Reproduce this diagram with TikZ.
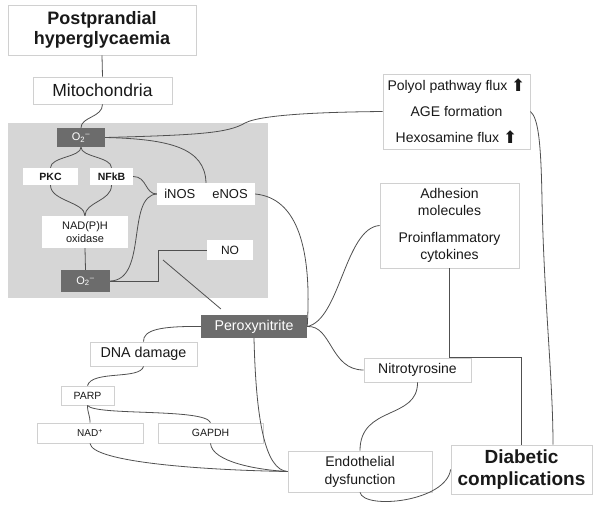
\documentclass[tikz,border=0pt]{standalone}
\usepackage{fontspec}
\setmainfont{Liberation Sans}
\newfontfamily\symf{DejaVu Sans}
\definecolor{panelgray}{RGB}{214,214,214}
\definecolor{darkbox}{RGB}{108,108,108}
\definecolor{boxline}{RGB}{208,208,208}
\definecolor{conn}{RGB}{80,80,80}
\definecolor{txt}{RGB}{25,25,25}
\newcommand{\fs}[2]{\fontsize{#1}{#2}\selectfont}
\newcommand{\uparr}{\raisebox{-1pt}{\symf\fontsize{17}{16}\selectfont ⬆}}
\begin{document}
\begin{tikzpicture}[x=1pt,y=-1pt,
  wbox/.style={draw=boxline,line width=0.8pt,fill=white,inner sep=0pt,align=center,text=txt},
  ibox/.style={fill=white,inner sep=0pt,align=center,text=txt},
  dbox/.style={fill=darkbox,inner sep=0pt,align=center,text=white},
  conn/.style={draw=conn,line width=0.8pt}]
\useasboundingbox (0,0) rectangle (600,520);
\fill[white] (0,0) rectangle (600,520);
\fill[panelgray] (8,123) rectangle (268,298);

% nodes
\node[wbox,minimum width=188pt,minimum height=50pt,font=\fs{18}{20}\bfseries] (ph) at (102,30) {Postprandial\\hyperglycaemia};
\node[wbox,minimum width=139pt,minimum height=27pt,font=\fs{17.5}{20}] (mito) at (102.5,90.5) {Mitochondria};
\node[dbox,minimum width=48pt,minimum height=19pt,font=\fs{11}{13}] (o2t) at (81,137.5) {O\textsubscript{2}\textsuperscript{--}};
\node[ibox,minimum width=55pt,minimum height=17pt,font=\fs{10.5}{12}\bfseries] (pkc) at (50.5,176.5) {PKC};
\node[ibox,minimum width=43pt,minimum height=17pt,font=\fs{10.5}{12}\bfseries] (nfkb) at (111.5,176.5) {NFkB};
\node[ibox,minimum width=98pt,minimum height=22pt,font=\fs{13}{15}] (inos) at (206,194) {iNOS\hspace{17pt}eNOS};
\node[ibox,minimum width=86pt,minimum height=32pt,font=\fs{11}{13}] (nadph) at (85,232) {NAD(P)H\\oxidase};
\node[ibox,minimum width=46pt,minimum height=20pt,font=\fs{12}{14}] (no) at (230,250) {NO};
\node[dbox,minimum width=49pt,minimum height=22pt,font=\fs{11}{13}] (o2b) at (85.5,281) {O\textsubscript{2}\textsuperscript{--}};
\node[dbox,minimum width=106pt,minimum height=23pt,font=\fs{14.2}{16}] (perox) at (254,326.5) {Peroxynitrite};
\node[wbox,minimum width=107pt,minimum height=24pt,font=\fs{14.3}{16}] (dna) at (143.5,354) {DNA damage};
\node[wbox,minimum width=53pt,minimum height=19pt,font=\fs{10.5}{12}] (parp) at (87.5,395.5) {PARP};
\node[wbox,minimum width=106pt,minimum height=20pt,font=\fs{10}{12}] (nad) at (90,433) {NAD\textsuperscript{+}};
\node[wbox,minimum width=105pt,minimum height=20pt,font=\fs{10.5}{12}] (gapdh) at (210.5,433) {GAPDH};
\node[wbox,minimum width=107pt,minimum height=24pt,font=\fs{14}{16}] (nitro) at (417.5,370) {Nitrotyrosine};
\node[wbox,minimum width=144pt,minimum height=41pt,font=\fs{14}{18}] (endo) at (360,471.5) {Endothelial\\dysfunction};
\node[wbox,minimum width=141pt,minimum height=49pt,font=\fs{19}{22}\bfseries] (diab) at (521.5,469.5) {Diabetic\\complications};
\node[wbox,minimum width=147pt,minimum height=75pt,font=\fs{14}{16}] (polyol) at (456.5,111.5) {Polyol pathway flux \uparr\\[10pt]AGE formation\\[10pt]Hexosamine flux \uparr};
\node[wbox,minimum width=139pt,minimum height=85pt,font=\fs{14}{17}] (adh) at (449.5,225.5) {Adhesion\\molecules\\[10pt]Proinflammatory\\cytokines};

\coordinate (nolink) at (163,260);

% connectors
\draw[conn] (ph.south) -- (mito.north);
\draw[conn] (mito.south) .. controls +(0,13) and +(0,-11) .. (o2t.north);
\draw[conn] (o2t.east) .. controls (200,135) and (228,133) .. (245,123) .. controls (262,114) and (330,112) .. (polyol.west);
\draw[conn] (o2t.east) .. controls (170,139) and (205,148) .. (inos.north);
\draw[conn] (o2t.south) .. controls +(0,10) and +(0,-11) .. (pkc.north);
\draw[conn] (o2t.south) .. controls +(0,10) and +(0,-11) .. (nfkb.north);
\draw[conn] (pkc.south) .. controls +(0,16) and +(0,-14) .. (nadph.north);
\draw[conn] (nfkb.south) .. controls +(0,16) and +(0,-14) .. (nadph.north);
\draw[conn] (nfkb.east) .. controls +(14,0) and +(-12,0) .. (inos.west);
\draw[conn] (nadph.south) -- (o2b.north);
\draw[conn] (o2b.east) .. controls (148,280) and (126,196) .. (inos.west);
\draw[conn] (o2b.east) -- (158,281) |- (no.west);
\draw[conn,shorten >=9pt] (nolink) -- ([xshift=27pt]perox.north west);
\draw[conn] (inos.east) .. controls (298,198) and (312,250) .. (perox.east);
\draw[conn] (adh.west) .. controls (345,228) and (340,320) .. (perox.east);
\draw[conn] (perox.east) .. controls (332,325) and (330,370) .. (nitro.west);
\draw[conn] (perox.west) .. controls (160,326) and (143,330) .. (dna.north);
\draw[conn] (perox.south) .. controls (256,420) and (265,470) .. (endo.west);
\draw[conn] (dna.south) .. controls (140,380) and (92,370) .. (parp.north);
\draw[conn] (parp.south) .. controls +(0,8) and +(0,-8) .. (nad.north);
\draw[conn] (parp.south) .. controls (95,416) and (205,408) .. (gapdh.north);
\draw[conn] (nad.south) .. controls (92,462) and (200,470) .. (endo.west);
\draw[conn] (gapdh.south) .. controls (212,462) and (258,470) .. (endo.west);
\draw[conn] (nitro.south) .. controls (418,420) and (360,405) .. (endo.north);
\draw[conn] (endo.south) .. controls (364,510) and (446,502) .. (diab.west);
\draw[conn] (adh.south) -- (449.5,357) -| (diab.north);
\draw[conn] (polyol.east) .. controls (538,118) and (541,140) .. (542,200) .. controls (544,300) and (553,380) .. ([xshift=31.5pt]diab.north);
\end{tikzpicture}
\end{document}
